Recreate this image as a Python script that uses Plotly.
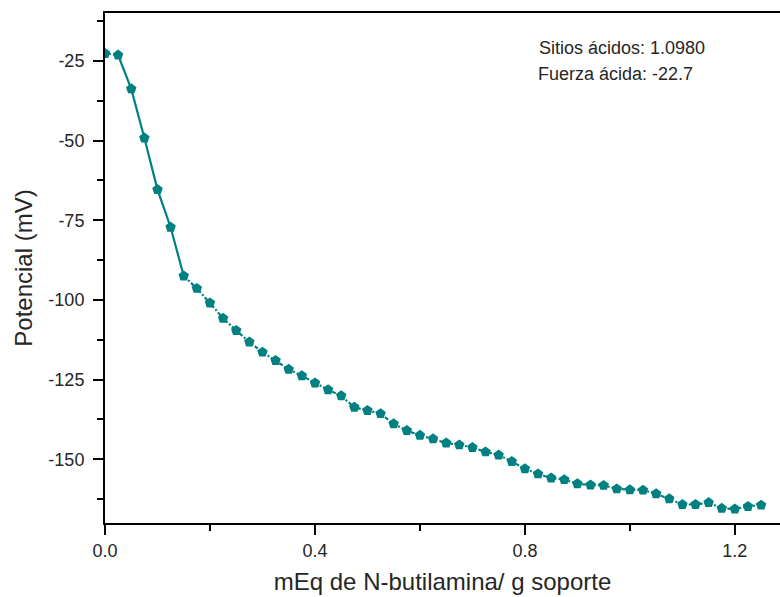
import plotly.graph_objects as go

# Titration of the support with n-butylamine
meq_butilamina = [
    0.000, 0.025, 0.050, 0.075, 0.100, 0.125, 0.150, 0.175, 0.200, 0.225,
    0.250, 0.275, 0.300, 0.325, 0.350, 0.375, 0.400, 0.425, 0.450, 0.475,
    0.500, 0.525, 0.550, 0.575, 0.600, 0.625, 0.650, 0.675, 0.700, 0.725,
    0.750, 0.775, 0.800, 0.825, 0.850, 0.875, 0.900, 0.925, 0.950, 0.975,
    1.000, 1.025, 1.050, 1.075, 1.100, 1.125, 1.150, 1.175, 1.200, 1.225,
    1.250,
]
potencial_mv = [
    -22.7, -23.2, -33.8, -49.2, -65.4, -77.2, -92.5, -96.4, -101.0, -105.8,
    -109.6, -113.2, -116.4, -119.0, -121.8, -123.8, -126.1, -128.2, -130.1, -133.7,
    -134.7, -135.7, -138.9, -141.0, -142.5, -143.6, -144.9, -145.5, -146.3, -147.7,
    -148.7, -150.7, -153.0, -154.6, -155.9, -156.4, -157.7, -158.1, -158.2, -159.3,
    -159.6, -159.7, -160.8, -162.4, -164.2, -164.2, -163.6, -165.4, -165.6, -164.8,
    -164.4,
]

x_ticks = [0.0, 0.4, 0.8, 1.2]
x_tick_labels = ["0.0", "0.4", "0.8", "1.2"]
x_minor_ticks = [0.2, 0.6, 1.0]
y_ticks = [-25, -50, -75, -100, -125, -150]
y_tick_labels = ["-25", "-50", "-75", "-100", "-125", "-150"]
y_minor_ticks = [-12.5, -37.5, -62.5, -87.5, -112.5, -137.5, -162.5]

sitios_acidos = "1.0980"
fuerza_acida = "-22.7"

TEAL = "#008080"
FONT = "Liberation Sans, Arial, sans-serif"
TEXT = "#262626"

fig = go.Figure()

# connecting line: dotted first step, solid steep drop, dashed tail
fig.add_trace(go.Scatter(
    x=meq_butilamina[0:2], y=potencial_mv[0:2], mode="lines",
    line=dict(color=TEAL, width=2, dash="2px,2px"), showlegend=False,
))
fig.add_trace(go.Scatter(
    x=meq_butilamina[1:7], y=potencial_mv[1:7], mode="lines",
    line=dict(color=TEAL, width=2.2), showlegend=False,
))
fig.add_trace(go.Scatter(
    x=meq_butilamina[6:], y=potencial_mv[6:], mode="lines",
    line=dict(color=TEAL, width=2.2, dash="4px,2px,2px,2px"), showlegend=False,
))
# measured points
fig.add_trace(go.Scatter(
    x=meq_butilamina, y=potencial_mv, mode="markers",
    marker=dict(symbol="pentagon", size=11, color=TEAL,
                line=dict(width=0)),
    showlegend=False,
))

fig.add_annotation(
    xref="paper", yref="paper", x=0.640, y=0.931, xanchor="left", yanchor="middle",
    text=f"Sitios ácidos: {sitios_acidos}", showarrow=False,
    font=dict(family=FONT, size=18, color=TEXT),
)
fig.add_annotation(
    xref="paper", yref="paper", x=0.638, y=0.880, xanchor="left", yanchor="middle",
    text=f"Fuerza ácida: {fuerza_acida}", showarrow=False,
    font=dict(family=FONT, size=18, color=TEXT),
)

fig.update_layout(
    width=780, height=597,
    margin=dict(l=105, r=0, t=13, b=74),
    paper_bgcolor="white", plot_bgcolor="white",
    font=dict(family=FONT, color=TEXT),
    xaxis=dict(
        range=[0, 1.286],
        showgrid=False, zeroline=False,
        showline=True, linecolor="black", linewidth=2, mirror=True,
        tickmode="array", tickvals=x_ticks, ticktext=x_tick_labels,
        ticks="outside", ticklen=10, tickwidth=2, tickcolor="black",
        minor=dict(tickmode="array", tickvals=x_minor_ticks, ticks="outside",
                   ticklen=6, tickwidth=2, tickcolor="black", showgrid=False),
        tickfont=dict(family=FONT, size=18, color=TEXT),
        title=dict(text="mEq de N-butilamina/ g soporte",
                   font=dict(family=FONT, size=24, color=TEXT), standoff=14),
    ),
    yaxis=dict(
        range=[-170, -10],
        showgrid=False, zeroline=False,
        showline=True, linecolor="black", linewidth=2,
        tickmode="array", tickvals=y_ticks, ticktext=y_tick_labels,
        ticks="outside", ticklen=10, tickwidth=2, tickcolor="black",
        ticklabelstandoff=5,
        minor=dict(tickmode="array", tickvals=y_minor_ticks, ticks="outside",
                   ticklen=6, tickwidth=2, tickcolor="black", showgrid=False),
        tickfont=dict(family=FONT, size=18, color=TEXT),
        title=dict(text="Potencial (mV)",
                   font=dict(family=FONT, size=24, color=TEXT), standoff=9),
    ),
)

fig.write_html("out.html")
